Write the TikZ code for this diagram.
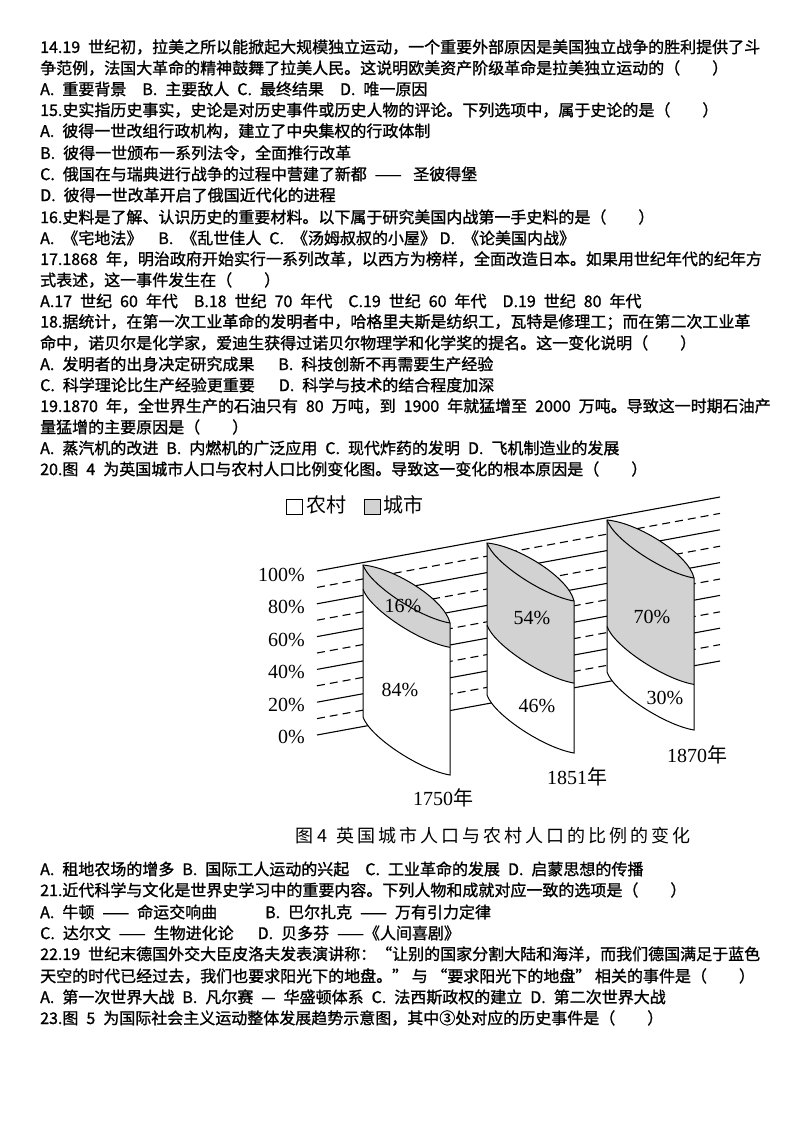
\documentclass[tikz,border=0pt]{standalone}
\usepackage{fontspec}
\setmainfont{Noto Sans CJK SC}[FakeBold=1.2]
\newfontfamily\numfont{Liberation Serif}
\newfontfamily\capfont{Noto Sans CJK SC}
\usetikzlibrary{calc}

\tikzset{
  ln/.style={anchor=west, inner sep=0pt, font=\fontsize{16}{16}\selectfont},
  pct/.style={font=\fontsize{20}{20}\numfont, inner sep=0pt},
  grid/.style={line width=1.1pt},
  griddash/.style={line width=1.1pt, dash pattern=on 8pt off 5pt},
  urban/.style={fill=gray!35},
}

% one slanted cylinder: left x, top y, urban share
\newcommand{\drawcyl}[3]{%
  \pgfmathsetmacro{\hh}{152}
  \pgfmathsetmacro{\uh}{#3*152}
  \fill[white] (#1,#2) -- ++(0,\hh) .. controls +(7,20) and +(-30,-5) .. ++(87,58)
      -- ++(0,-\hh) .. controls +(-5,-23) and +(32,3) .. ++(-87,-58) -- cycle;
  \fill[urban] (#1,#2) .. controls +(32,3) and +(-5,-23) .. ++(87,58)
      -- ++(0,\uh) .. controls +(-30,-5) and +(7,20) .. ++(-87,-58) -- cycle;
  \draw[line width=1pt] (#1,#2) -- ++(0,\hh) .. controls +(7,20) and +(-30,-5) .. ++(87,58)
      -- ++(0,-\hh) .. controls +(-5,-23) and +(32,3) .. ++(-87,-58) -- cycle;
  \draw[line width=1pt] (#1,#2) .. controls +(7,20) and +(-30,-5) .. ++(87,58);
  \draw[line width=1pt] (#1,#2+\uh) .. controls +(7,20) and +(-30,-5) .. ++(87,58);
}

\begin{document}
\begin{tikzpicture}[x=1pt,y=-1pt]
  \useasboundingbox[fill=white] (0,0) rectangle (794,1123);

  % questions 14 - 20
  \node[ln] (l1) at (40,47) {14.19\enspace 世纪初，拉美之所以能掀起大规模独立运动，一个重要外部原因是美国独立战争的胜利提供了斗};
  \node[ln] (l2) at (40,68) {争范例，法国大革命的精神鼓舞了拉美人民。这说明欧美资产阶级革命是拉美独立运动的（\quad\quad）};
  \node[ln] (l3) at (40,89) {A.\enspace 重要背景\quad B.\enspace 主要敌人\enspace C.\enspace 最终结果\quad D.\enspace 唯一原因};
  \node[ln] (l4) at (40,110) {15.史实指历史事实，史论是对历史事件或历史人物的评论。下列选项中，属于史论的是（\quad\quad）};
  \node[ln] (l5) at (40,131) {A.\enspace 彼得一世改组行政机构，建立了中央集权的行政体制};
  \node[ln] (l6) at (40,153) {B.\enspace 彼得一世颁布一系列法令，全面推行改革};
  \node[ln] (l7) at (40,174) {C.\enspace 俄国在与瑞典进行战争的过程中营建了新都\enspace —— \enspace 圣彼得堡};
  \node[ln] (l8) at (40,195) {D.\enspace 彼得一世改革开启了俄国近代化的进程};
  \node[ln] (l9) at (40,217) {16.史料是了解、认识历史的重要材料。以下属于研究美国内战第一手史料的是（\quad\quad）};
  \node[ln] (l10) at (40,238) {A.\enspace 《宅地法》\quad B.\enspace 《乱世佳人\enspace C.\enspace 《汤姆叔叔的小屋》 D.\enspace 《论美国内战》};
  \node[ln] (l11) at (40,259) {17.1868\enspace 年，明治政府开始实行一系列改革，以西方为榜样，全面改造日本。如果用世纪年代的纪年方};
  \node[ln] (l12) at (40,280) {式表述，这一事件发生在（\quad\quad）};
  \node[ln] (l13) at (40,301) {A.17\enspace 世纪\enspace 60\enspace 年代\enspace\enspace B.18\enspace 世纪\enspace 70\enspace 年代\enspace\enspace C.19\enspace 世纪\enspace 60\enspace 年代\enspace\enspace D.19\enspace 世纪\enspace 80\enspace 年代};
  \node[ln] (l14) at (40,322) {18.据统计，在第一次工业革命的发明者中，哈格里夫斯是纺织工，瓦特是修理工；而在第二次工业革};
  \node[ln] (l15) at (40,343) {命中，诺贝尔是化学家，爱迪生获得过诺贝尔物理学和化学奖的提名。这一变化说明（\quad\quad）};
  \node[ln] (l16) at (40,364) {A.\enspace 发明者的出身决定研究成果\quad\enspace B.\enspace 科技创新不再需要生产经验};
  \node[ln] (l17) at (40,385) {C.\enspace 科学理论比生产经验更重要\quad\enspace D.\enspace 科学与技术的结合程度加深};
  \node[ln] (l18) at (40,406) {19.1870\enspace 年，全世界生产的石油只有\enspace 80\enspace 万吨，到\enspace 1900\enspace 年就猛增至\enspace 2000\enspace 万吨。导致这一时期石油产};
  \node[ln] (l19) at (40,427) {量猛增的主要原因是（\quad\quad）};
  \node[ln] (l20) at (40,448) {A.\enspace 蒸汽机的改进\enspace B.\enspace 内燃机的广泛应用\enspace C.\enspace 现代炸药的发明\enspace D.\enspace 飞机制造业的发展};
  \node[ln] (l21) at (40,469) {20.图\enspace 4\enspace 为英国城市人口与农村人口比例变化图。导致这一变化的根本原因是（\quad\quad）};

  % chart: grid behind the cylinders
  \foreach \i in {0,...,5}
    \draw[grid] (317,{571+\i*32.8}) -- (720,{497+\i*32.8});
  \foreach \i in {0,...,4}
    \draw[griddash] (317,{587.4+\i*32.8}) -- (720,{513.4+\i*32.8});
  \foreach \v [count=\i from 0] in {100,80,60,40,20,0}
    \node[pct, anchor=east] (ax\v) at (305,{575+\i*32.4}) {\v\%};

  \drawcyl{363}{565}{0.16}
  \drawcyl{487}{543}{0.54}
  \drawcyl{607}{520}{0.70}

  \node[pct] (u1750) at (403,606) {16\%};
  \node[pct] (r1750) at (400,690) {84\%};
  \node[pct] (u1851) at (532,618) {54\%};
  \node[pct] (r1851) at (537,706) {46\%};
  \node[pct] (u1870) at (652,617) {70\%};
  \node[pct] (r1870) at (665,698) {30\%};
  \node[pct] (y1750) at (443,798) {1750{\capfont 年}};
  \node[pct] (y1851) at (577,777) {1851{\capfont 年}};
  \node[pct] (y1870) at (697,755) {1870{\capfont 年}};

  % legend
  \draw[line width=1pt] (286,499) rectangle (302,514);
  \node[anchor=west, inner sep=0pt, font=\fontsize{20}{20}\capfont] (kr) at (306,505) {农村};
  \draw[line width=1pt, urban] (364,499) rectangle (380,514);
  \node[anchor=west, inner sep=0pt, font=\fontsize{20}{20}\capfont] (ku) at (383,505) {城市};

  \node[inner sep=0pt, font=\fontsize{18}{18}\capfont] (cap) at (493,836)
    {图 4\enspace 英\,国\,城\,市\,人\,口\,与\,农\,村\,人\,口\,的\,比\,例\,的\,变\,化};

  % questions 20 - 23
  \node[ln] (l22) at (40,869) {A.\enspace 租地农场的增多\enspace B.\enspace 国际工人运动的兴起\quad C.\enspace 工业革命的发展\enspace D.\enspace 启蒙思想的传播};
  \node[ln] (l23) at (40,890) {21.近代科学与文化是世界史学习中的重要内容。下列人物和成就对应一致的选项是（\quad\quad）};
  \node[ln] (l24) at (40,912) {A.\enspace 牛顿\enspace ——\enspace 命运交响曲\qquad\quad B.\enspace 巴尔扎克\enspace ——\enspace 万有引力定律};
  \node[ln] (l25) at (40,933) {C.\enspace 达尔文\enspace ——\enspace 生物进化论\quad\enspace D.\enspace 贝多芬\enspace ——《人间喜剧》};
  \node[ln] (l26) at (40,954) {22.19\enspace 世纪末德国外交大臣皮洛夫发表演讲称：“让别的国家分割大陆和海洋，而我们德国满足于蓝色};
  \node[ln] (l27) at (40,976) {天空的时代已经过去，我们也要求阳光下的地盘。” 与 “要求阳光下的地盘” 相关的事件是（\quad\quad）};
  \node[ln] (l28) at (40,997) {A.\enspace 第一次世界大战\enspace B.\enspace 凡尔赛\enspace —\enspace 华盛顿体系\enspace C.\enspace 法西斯政权的建立\enspace D.\enspace 第二次世界大战};
  \node[ln] (l29) at (40,1018) {23.图\enspace 5\enspace 为国际社会主义运动整体发展趋势示意图，其中③处对应的历史事件是（\quad\quad）};
\end{tikzpicture}
\end{document}
